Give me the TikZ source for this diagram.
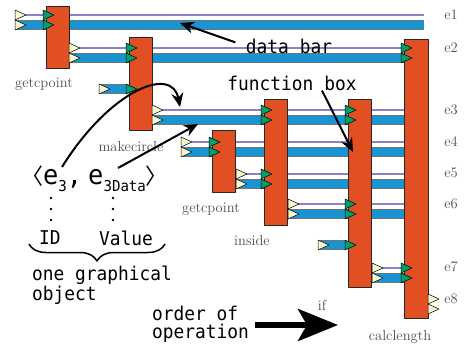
\documentclass[tikz,border=0pt]{standalone}
\usepackage{fontspec}
\newfontfamily\gothic[FakeStretch=0.94]{DejaVu Sans Mono}
\newfontfamily\cjk{Noto Sans CJK JP}
\usetikzlibrary{shapes.geometric,arrows.meta,decorations.pathreplacing,backgrounds}
\definecolor{boxred}{RGB}{226,79,34}
\definecolor{barblue}{RGB}{24,148,210}
\definecolor{lineviolet}{RGB}{140,128,200}
\definecolor{portcream}{RGB}{250,245,205}
\definecolor{portgreen}{RGB}{0,160,105}

\begin{document}
\begin{tikzpicture}[x=1pt, y=-1pt, line join=round]
	\tikzset{
	    fbox/.style= {draw=black!85, fill=boxred, line width=0.8pt, minimum width=23pt, inner sep=0pt, outer sep=0pt, anchor=north west},
	    port/.style= {isosceles triangle, isosceles triangle stretches, minimum width=10pt, minimum height=11pt, inner sep=0pt, outer sep=0pt, anchor=west, draw=black, line width=0.5pt},
	    emit/.style= {port, fill=portcream},
	    take/.style= {port, fill=portgreen},
	    datline/.style= {draw=black!55, line width=0.5pt, double=barblue, double distance=8.5pt},
	    idline/.style= {draw=lineviolet, line width=2.2pt},
	    fname/.style= {text=black!70, font=\fontsize{14.5}{14.5}\selectfont},
	    note/.style= {inner sep=0pt, align=left, font=\gothic\fontsize{19}{18}\selectfont},
	    pointer/.style= {-{Stealth[length=14pt, width=12pt]}, line width=2pt},
	}
	\useasboundingbox (0,0) rectangle (466,350);
	
	% function boxes
	\node[fbox, minimum height=62pt] (gp1) at (46,6) {};
	\node[fbox, minimum height=93pt] (mc) at (129,37) {};
	\node[fbox, minimum height=62pt] (gp2) at (212,130) {};
	\node[fbox, minimum height=126pt] (ins) at (264,99) {};
	\node[fbox, minimum height=188pt] (iff) at (348,99) {};
	\node[fbox, minimum width=24pt, minimum height=279pt] (cl) at (404,39) {};
	
	\node[fname] (gp1n) at (44,84) {getcpoint};
	\node[fname] (mcn) at (131,147) {makecircle};
	\node[fname] (gp2n) at (211,209) {getcpoint};
	\node[fname] (insn) at (252,241) {inside};
	\node[fname] (iffn) at (322,305) {if};
	\node[fname] (cln) at (400,337) {calclength};
	
	% output ports
	\node[emit] (e1a) at (15,15) {};   \node[emit] (e1b) at (15,25) {};
	\node[emit] (e2a) at (69,48) {};   \node[emit] (e2b) at (69,58) {};
	\node[emit] (ma) at (99,89) {};
	\node[emit] (e3a) at (152,110) {}; \node[emit] (e3b) at (152,120) {};
	\node[emit] (e4a) at (181,142) {}; \node[emit] (e4b) at (181,152) {};
	\node[emit] (e5a) at (236,174) {}; \node[emit] (e5b) at (236,184) {};
	\node[emit] (e6a) at (288,204) {}; \node[emit] (e6b) at (288,214) {};
	\node[emit] (ia) at (318,245) {};
	\node[emit] (e7a) at (372,268) {}; \node[emit] (e7b) at (372,278) {};
	\node[emit] (e8a) at (428,299) {}; \node[emit] (e8b) at (428,309) {};
	
	% input ports
	\node[take] (g1a) at (43,15) {};  \node[take] (g1b) at (43,25) {};
	\node[take] (m1a) at (126,48) {}; \node[take] (m1b) at (126,58) {};
	\node[take] (m2) at (126,89) {};
	\node[take] (g2a) at (209,142) {}; \node[take] (g2b) at (209,152) {};
	\node[take] (n1a) at (261,110) {}; \node[take] (n1b) at (261,120) {};
	\node[take] (n2a) at (261,174) {}; \node[take] (n2b) at (261,184) {};
	\node[take] (f1a) at (345,110) {}; \node[take] (f1b) at (345,120) {};
	\node[take] (f2a) at (345,204) {}; \node[take] (f2b) at (345,214) {};
	\node[take] (f3) at (345,245) {};
	\node[take] (c1a) at (401,48) {}; \node[take] (c1b) at (401,58) {};
	\node[take] (c2a) at (401,268) {}; \node[take] (c2b) at (401,278) {};
	
	\coordinate (stop) at (424,0);
	\begin{pgfonlayer}{background}
	    \foreach \r in {1,...,7} {
	        \draw[idline] (e\r a.west) -- (e\r a.west -| stop);
	        \draw[datline] (e\r b.west) -- (e\r b.west -| stop);
	    }
	    \draw[datline] (ma.west) -- (m2.west);
	    \draw[datline] (ia.west) -- (f3.west);
	\end{pgfonlayer}
	
	\foreach \n/\y in {1/15,2/48,3/110,4/142,5/173,6/204,7/267,8/299}
	    \node[fname] (lab\n) at (451,\y) {e\n};
	
	% notes
	\node[note] (databar) at (289,46) {data bar};
	\node[note] (funcbox) at (292,83) {function box};
	\coordinate (bartip) at (180,23);
	\coordinate (boxtip) at (353,152);
	\draw[pointer, shorten <=11pt] (databar.west) -- (bartip);
	\draw[pointer] ([xshift=30pt]funcbox.south) -- (boxtip);
	
	\node[inner sep=0pt, anchor=base west] (tuple) at (21,185)
	    {{\cjk\fontsize{22}{22}\selectfont 〈}{\gothic\fontsize{27}{27}\selectfont e\raisebox{-7pt}{\fontsize{15}{15}\selectfont 3},\kern6pt e\raisebox{-7pt}{\fontsize{15}{15}\selectfont 3Data}}{\cjk\fontsize{22}{22}\selectfont 〉}};
	\foreach \y in {198,209,220} {
	    \fill (51,\y) circle (1.3);
	    \fill (113,\y) circle (1.3);
	}
	\node[note] (idt) at (50,238) {ID};
	\node[note] (valt) at (126,238) {Value};
	\draw[line width=1.5pt, decorate, decoration={brace, mirror, amplitude=17pt}] (29,244) -- (165,244);
	\node[note, anchor=west] (obj) at (32,285) {one graphical\\object};
	
	\coordinate (idfoot) at (62,167);
	\coordinate (idtip) at (180,107);
	\coordinate (valfoot) at (118,168);
	\coordinate (valtip) at (198,124);
	\draw[pointer] (idfoot) .. controls (110,90) and (172,65) .. (idtip);
	\draw[pointer] (valfoot) -- (valtip);
	
	\node[note, anchor=west] (order) at (152,324) {order of\\operation};
	\coordinate (ordtip) at (338,325);
	\draw[-{Stealth[length=40pt, width=32pt, inset=9pt]}, line width=6pt] (255,325) -- (ordtip);
\end{tikzpicture}
\end{document}
